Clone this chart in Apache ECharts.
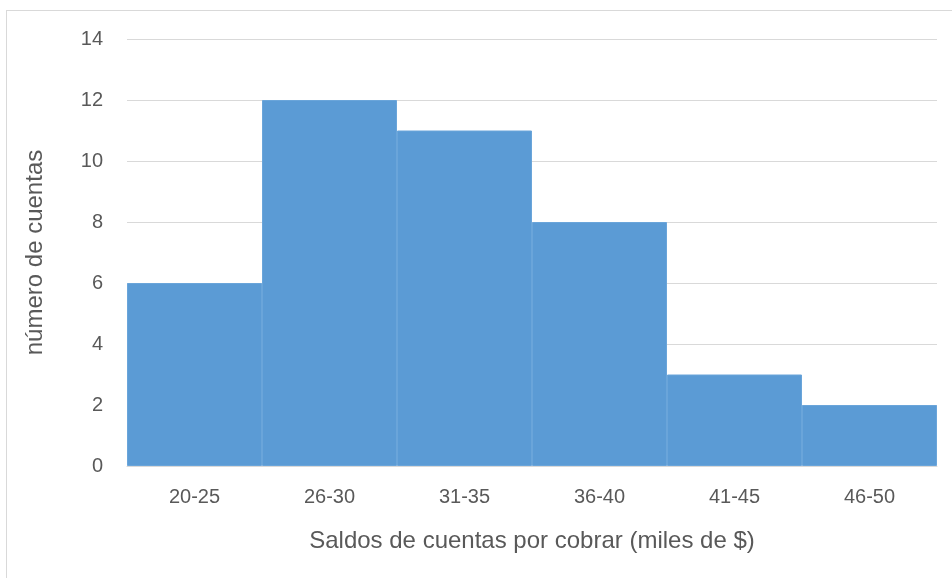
<!DOCTYPE html>
<html><head><meta charset="utf-8">
<script src="https://cdn.jsdelivr.net/npm/echarts@6/dist/echarts.min.js"></script>
<style>html,body{margin:0;padding:0;background:#fff}#c{width:952px;height:578px}
#frame{position:absolute;left:6px;top:10px;width:960px;height:600px;border:1px solid #d9d9d9;pointer-events:none}</style>
</head><body><div id="frame"></div><div id="c"></div>
<script>
const categories = ['20-25','26-30','31-35','36-40','41-45','46-50'];
const counts = [6,12,11,8,3,2];
const yTicks = {min:0, max:14, interval:2};
const xTitle = 'Saldos de cuentas por cobrar (miles de $)';
const yTitle = 'número de cuentas';
const chart = echarts.init(document.getElementById('c'));
const font = 'Liberation Sans';
chart.setOption({
  animation:false,
  grid:{left:127,right:15,top:39,bottom:112},
  xAxis:{type:'category',data:categories,
    axisLine:{lineStyle:{color:'#d9d9d9'}},axisTick:{show:false},
    axisLabel:{color:'#595959',fontFamily:font,fontSize:20,margin:21},
    name:xTitle,nameLocation:'middle',nameGap:63,
    nameTextStyle:{color:'#595959',fontFamily:font,fontSize:24}},
  yAxis:{type:'value',min:yTicks.min,max:yTicks.max,interval:yTicks.interval,
    axisLine:{show:false},axisTick:{show:false},
    splitLine:{lineStyle:{color:'#d9d9d9',width:1}},
    axisLabel:{color:'#595959',fontFamily:font,fontSize:20,margin:24},
    name:yTitle,nameLocation:'middle',nameGap:80,nameRotate:90,
    nameTextStyle:{color:'#595959',fontFamily:font,fontSize:24}},
  series:[{type:'bar',data:counts,barCategoryGap:'0%',
    itemStyle:{color:'#5b9bd5',borderColor:'#6aa5da',borderWidth:1}}]
});
</script></body></html>
